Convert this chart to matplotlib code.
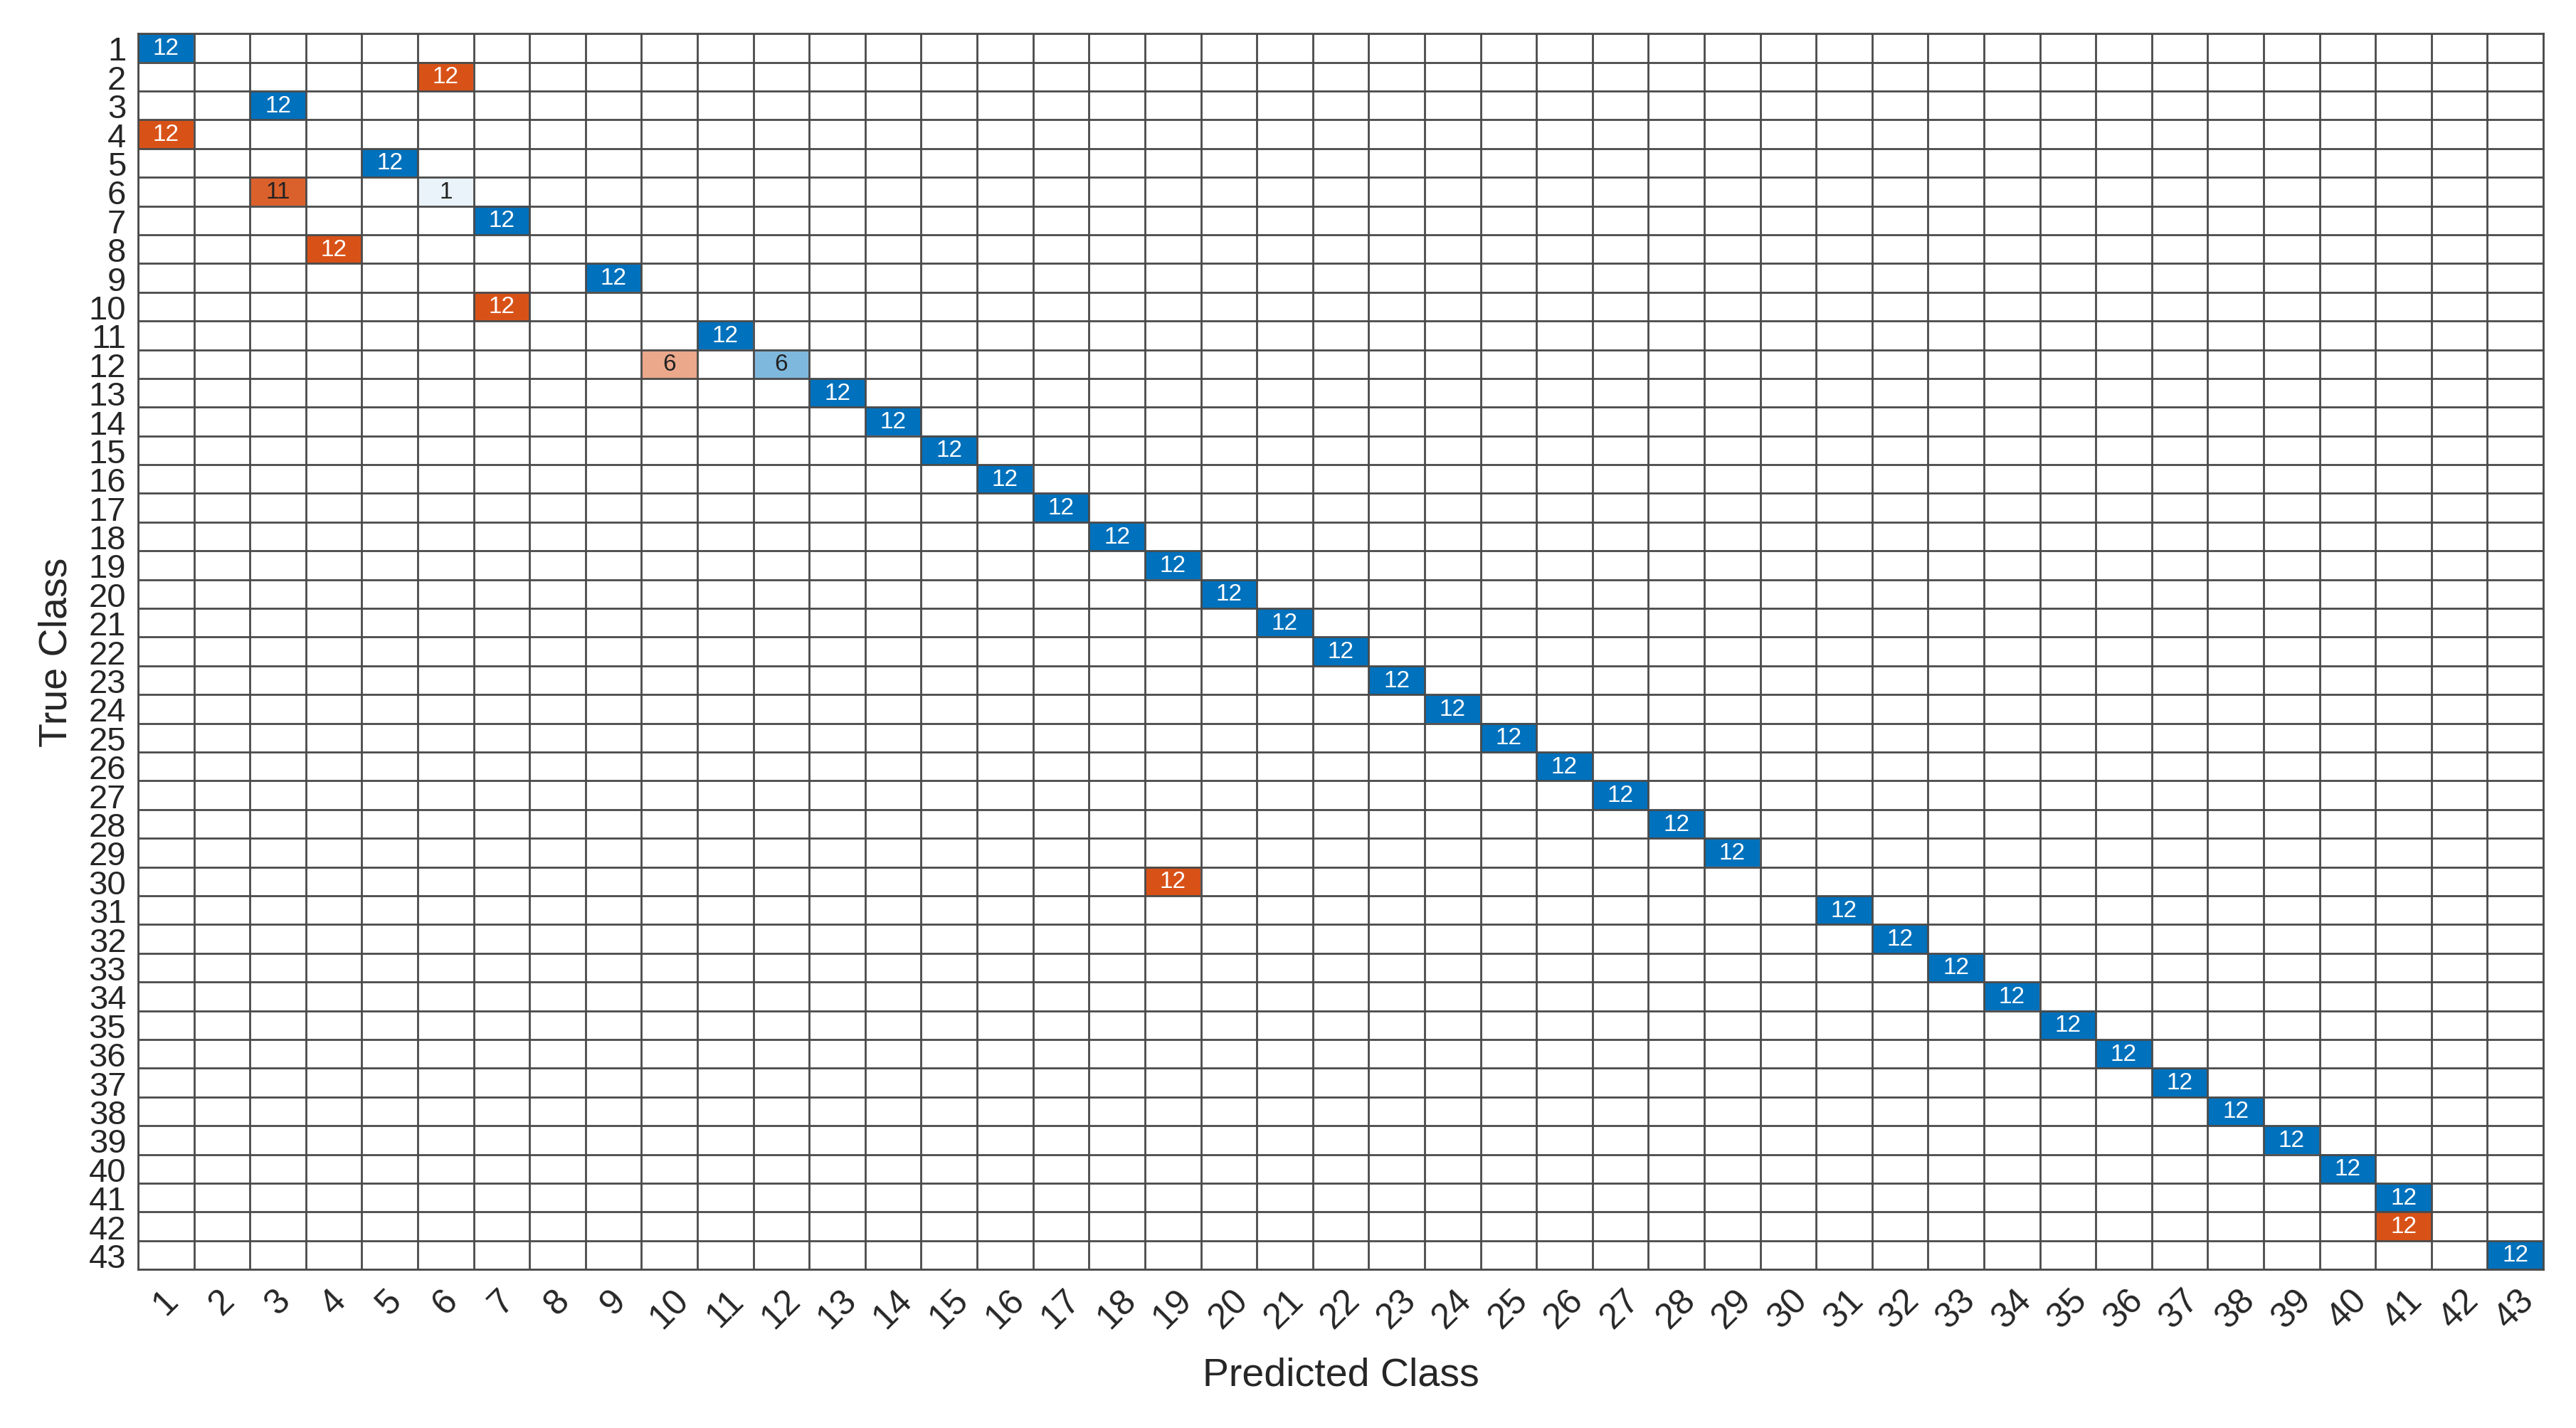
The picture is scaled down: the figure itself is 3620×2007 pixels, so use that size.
import numpy as np
import matplotlib
matplotlib.use("Agg")
import matplotlib.pyplot as plt

plt.rcParams['font.family'] = ['Liberation Sans', 'DejaVu Sans']

n_classes = 43
class_labels = [str(i) for i in range(1, n_classes + 1)]

# non-zero entries of the confusion matrix (true class, predicted class, count)
true_cls = [1, 2, 3, 4, 5, 6, 6, 7, 8, 9, 10, 11, 12, 12,
            13, 14, 15, 16, 17, 18, 19, 20, 21, 22, 23, 24, 25, 26, 27, 28, 29,
            30, 31, 32, 33, 34, 35, 36, 37, 38, 39, 40, 41, 42, 43]
pred_cls = [1, 6, 3, 1, 5, 3, 6, 7, 4, 9, 7, 11, 10, 12,
            13, 14, 15, 16, 17, 18, 19, 20, 21, 22, 23, 24, 25, 26, 27, 28, 29,
            19, 31, 32, 33, 34, 35, 36, 37, 38, 39, 40, 41, 41, 43]
counts = [12, 12, 12, 12, 12, 11, 1, 12, 12, 12, 12, 12, 6, 6,
          12, 12, 12, 12, 12, 12, 12, 12, 12, 12, 12, 12, 12, 12, 12, 12, 12,
          12, 12, 12, 12, 12, 12, 12, 12, 12, 12, 12, 12, 12, 12]

cm = np.zeros((n_classes, n_classes), dtype=int)
for t, p, c in zip(true_cls, pred_cls, counts):
    cm[t - 1, p - 1] = c

diag_color = np.array([0.0, 0.447, 0.741])
off_color = np.array([0.850, 0.325, 0.098])
vmax = cm.max()

rgb = np.ones((n_classes, n_classes, 3))
for i in range(n_classes):
    for j in range(n_classes):
        if cm[i, j] > 0:
            f = cm[i, j] / vmax
            base = diag_color if i == j else off_color
            rgb[i, j] = (1 - f) * np.ones(3) + f * base

fig = plt.figure(figsize=(36.2, 20.08), dpi=100)
ax = fig.add_axes([0.0536, 0.111, 0.9337, 0.865])
ax.imshow(rgb, aspect='auto', interpolation='nearest',
          extent=(0.5, n_classes + 0.5, n_classes + 0.5, 0.5))

# grid lines
for k in range(n_classes + 1):
    ax.axhline(k + 0.5, color='#4a4a4a', lw=2.0)
    ax.axvline(k + 0.5, color='#4a4a4a', lw=2.0)

for i in range(n_classes):
    for j in range(n_classes):
        v = cm[i, j]
        if v > 0:
            col = 'white' if v == vmax else '#222222'
            ax.text(j + 1, i + 1, str(v), ha='center', va='center',
                    fontsize=24, color=col)

ax.set_xlim(0.5, n_classes + 0.5)
ax.set_ylim(n_classes + 0.5, 0.5)
ax.set_xticks(range(1, n_classes + 1))
ax.set_yticks(range(1, n_classes + 1))
ax.set_xticklabels(class_labels, rotation=45, ha='center', va='top', fontsize=36)
ax.set_yticklabels(class_labels, fontsize=34)
ax.tick_params(axis='both', length=0, colors='#262626')
ax.tick_params(axis='x', pad=14)
ax.tick_params(axis='y', pad=12)
for s in ax.spines.values():
    s.set_color('#4a4a4a')
    s.set_linewidth(2.0)

ax.set_xlabel("Predicted Class", fontsize=40, color='#262626', labelpad=22)
ax.set_ylabel("True Class", fontsize=40, color='#262626', labelpad=14)

fig.savefig("out.png", dpi=100)
